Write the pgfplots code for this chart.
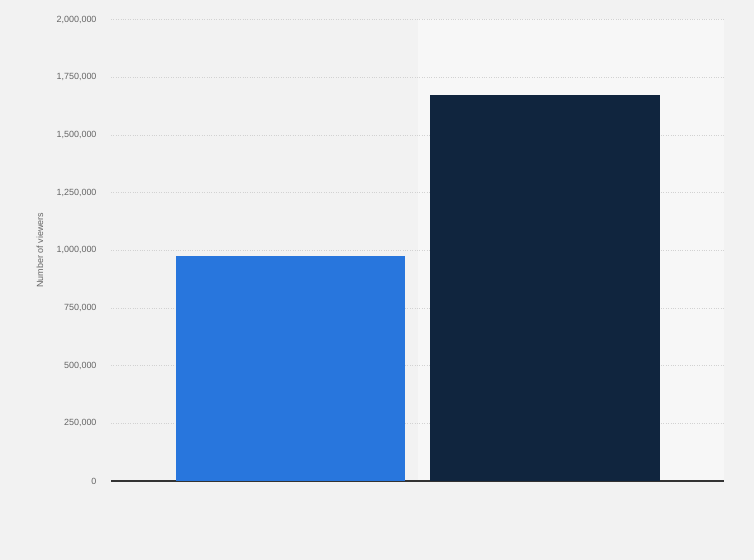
\documentclass[border=0pt]{standalone}
\usepackage{pgfplots}
\pgfplotsset{compat=1.18}
\usepackage{fontspec}
\setmainfont{Liberation Sans}
\definecolor{bg}{HTML}{F2F2F2}
\definecolor{hl}{HTML}{F7F7F7}
\definecolor{barblue}{HTML}{2876DD}
\definecolor{barnavy}{HTML}{10253E}
\definecolor{gridc}{HTML}{D2D2D2}
\definecolor{ticklab}{HTML}{666666}
\definecolor{axisc}{HTML}{333333}
\begin{document}
\begin{tikzpicture}[x=1bp,y=1bp]
\fill[bg] (0,0) rectangle (754,560);
\fill[hl] (418,79) rectangle (724,540.5);
\begin{axis}[
  at={(111bp,79bp)}, anchor=south west,
  scale only axis, width=613bp, height=461.5bp,
  xmin=-0.705, xmax=1.703, ymin=0, ymax=2000000,
  axis x line*=bottom, axis y line*=left,
  x axis line style={draw=axisc, line width=1.1bp, -},
  y axis line style={draw=none},
  xtick=\empty,
  ytick={0,250000,500000,750000,1000000,1250000,1500000,1750000,2000000},
  scaled y ticks=false,
  major tick length=0pt,
  ymajorgrids,
  major grid style={draw=gridc, dotted, line width=0.6bp},
  /pgf/number format/assume math mode=true,
  yticklabel={\pgfmathprintnumber[fixed,1000 sep={,}]{\tick}},
  yticklabel style={font=\fontsize{9}{10}\selectfont, text=ticklab, anchor=east, xshift=-11bp},
  every axis y label/.style={at={(axis description cs:-0.1158,0.5)}, rotate=90, anchor=center, font=\fontsize{9}{10}\selectfont, text=ticklab},
  ylabel={Number of viewers},
]
\addplot[ybar, bar width=0.9, fill=barblue, draw=none] coordinates {(0,973000)};
\addplot[ybar, bar width=0.9, fill=barnavy, draw=none] coordinates {(1,1673000)};
\end{axis}
\end{tikzpicture}
\end{document}
